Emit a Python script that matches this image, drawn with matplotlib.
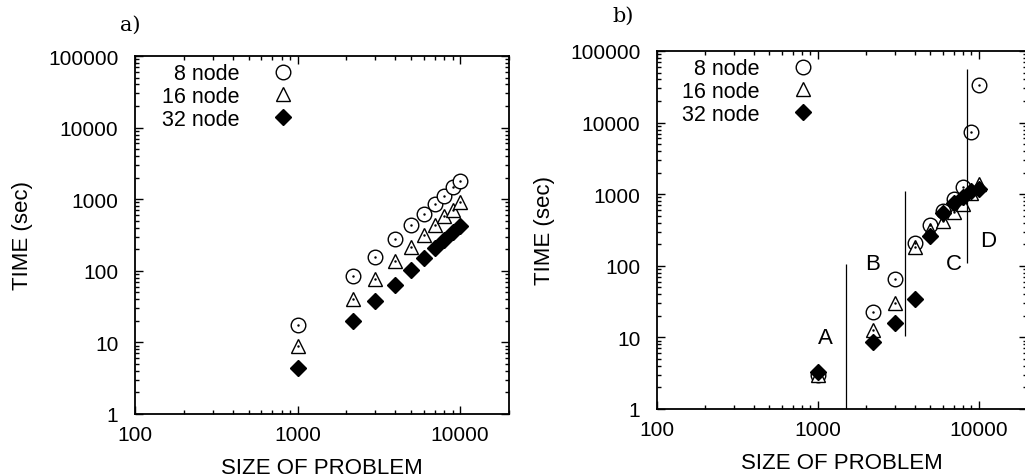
import numpy as np
import matplotlib.pyplot as plt
from matplotlib.ticker import LogLocator, NullFormatter, FixedLocator, FixedFormatter

plt.rcParams['font.family'] = ['Liberation Sans', 'DejaVu Sans']

# ---------------------------------------------------------------
# dados
# ---------------------------------------------------------------
sizes = [1000, 2200, 3000, 4000, 5000, 6000, 7000, 8000, 9000, 10000]

# painel a)
a_8node = [17.5, 84, 154, 278, 436, 621, 857, 1120, 1466, 1777]
a_16node = [9.0, 41, 77, 136, 213, 316, 436, 577, 713, 905]
a_32node = [4.35, 20, 38, 64, 103, 151, 208, 272, 345, 426]

# painel b)
b_8node = [3.0, 22.9, 65, 206, 370, 580, 870, 1280, 7460, 34000]
b_16node = [3.0, 12.6, 30, 181, 315, 420, 560, 740, 1050, 1390]
b_32node = [3.3, 8.7, 15.9, 34.4, 263, 545, 754, 920, 1100, 1190]

# linhas verticais que separam as regioes A-D
region_x = [1500, 3500, 8500]
region_ymin = [1, 10.5, 110]
region_ymax = [106, 1120, 56000]

region_labels = ['A', 'B', 'C', 'D']
region_label_x = [1120, 2200, 7000, 11400]
region_label_y = [10, 106, 106, 224]

legend_labels = ['8 node', '16 node', '32 node']
tick_vals = [1, 10, 100, 1000, 10000, 100000]
xtick_vals = [100, 1000, 10000]


def estilo_eixo(ax):
    ax.set_xscale('log')
    ax.set_yscale('log')
    ax.set_xlim(100, 20000)
    ax.set_ylim(1, 100000)
    ax.xaxis.set_major_locator(FixedLocator(xtick_vals))
    ax.xaxis.set_major_formatter(FixedFormatter([str(v) for v in xtick_vals]))
    ax.yaxis.set_major_locator(FixedLocator(tick_vals))
    ax.yaxis.set_major_formatter(FixedFormatter([str(v) for v in tick_vals]))
    ax.xaxis.set_minor_locator(LogLocator(base=10, subs=np.arange(2, 10)))
    ax.yaxis.set_minor_locator(LogLocator(base=10, subs=np.arange(2, 10)))
    ax.xaxis.set_minor_formatter(NullFormatter())
    ax.yaxis.set_minor_formatter(NullFormatter())
    ax.tick_params(which='both', direction='in', top=True, right=True, width=1.0)
    ax.tick_params(which='major', length=6, labelsize=15)
    ax.tick_params(axis='x', which='major', pad=8)
    ax.tick_params(axis='y', which='major', pad=12)
    ax.tick_params(which='minor', length=3)
    for s in ax.spines.values():
        s.set_linewidth(1.3)
    ax.set_xlabel('SIZE OF PROBLEM', fontsize=16, labelpad=9)
    ax.set_ylabel('TIME (sec)', fontsize=16, labelpad=11)


def desenha_series(ax, s8, s16, s32):
    h1, = ax.plot(sizes, s8, linestyle='none', marker='o', markersize=10.5,
                  markerfacecolor='white', markeredgecolor='black', markeredgewidth=1.0)
    h2, = ax.plot(sizes, s16, linestyle='none', marker='^', markersize=10,
                  markerfacecolor='white', markeredgecolor='black', markeredgewidth=1.0)
    h3, = ax.plot(sizes, s32, linestyle='none', marker='D', markersize=8,
                  markerfacecolor='black', markeredgecolor='black')
    # pontinho central (estilo gnuplot)
    ax.plot(sizes, s8, linestyle='none', marker='.', markersize=1.5, color='black')
    ax.plot(sizes, s16, linestyle='none', marker='.', markersize=1.5, color='black')
    leg = ax.legend([h1, h2, h3], legend_labels, loc='upper right',
                    bbox_to_anchor=(0.486, 1.028), frameon=False, markerfirst=False,
                    fontsize=15.5, handlelength=1.5, handletextpad=1.3,
                    labelspacing=0.08, borderpad=0.3)
    return leg


fig = plt.figure(figsize=(10.25, 4.77), dpi=100)

# ---------------- painel a) ----------------
ax1 = fig.add_axes([0.1317, 0.130, 0.3649, 0.7505])
desenha_series(ax1, a_8node, a_16node, a_32node)
estilo_eixo(ax1)
fig.text(0.127, 0.948, 'a)', family='DejaVu Serif', fontsize=15, ha='center', va='center')

# ---------------- painel b) ----------------
ax2 = fig.add_axes([0.641, 0.1405, 0.361, 0.7505])
desenha_series(ax2, b_8node, b_16node, b_32node)
estilo_eixo(ax2)
ax2.vlines(region_x, region_ymin, region_ymax, colors='black', linewidth=0.9)
for lab, xx, yy in zip(region_labels, region_label_x, region_label_y):
    ax2.text(xx, yy, lab, fontsize=16, ha='center', va='center')
fig.text(0.608, 0.966, 'b)', family='DejaVu Serif', fontsize=15, ha='center', va='center')

plt.savefig('out.png', dpi=100)
